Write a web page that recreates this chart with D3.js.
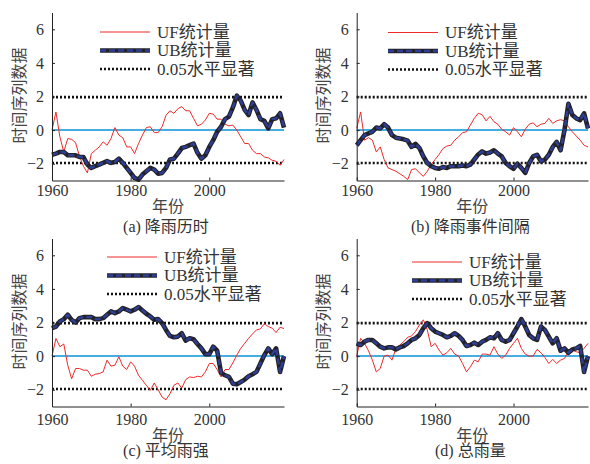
<!DOCTYPE html>
<html>
<head>
<meta charset="utf-8">
<script src="https://cdn.jsdelivr.net/npm/d3@7"></script>
<style>
body { margin: 0; background: #fff; }
text { font-family: "Liberation Serif", "Times New Roman", "Noto Sans CJK SC", serif; fill: #333; }
</style>
</head>
<body>
<script>

const startYear = 1960;
const xTicks = [1960, 1980, 2000];
const yTicks = [-2, 0, 2, 4, 6];
const sigLevel = 1.96;
const legendLabels = ["UF统计量", "UB统计量", "0.05水平显著"];
const titles = ["(a) 降雨历时", "(b) 降雨事件间隔", "(c) 平均雨强", "(d) 总雨量"];
const xLabel = "年份";
const yLabel = "时间序列数据";

// UF / UB values, one per year from 1960 to 2019
const ufA = [0.0, 1.08, -0.4, -1.3, -0.5, -0.55, -0.75, -1.57, -2.15, -2.55,
  -1.4, -1.2, -1.0, -0.7, -0.9, -0.5, 0.15, -0.3, -0.45, -1.0,
  -1.0, -1.4, -0.8, -0.3, 0.15, 0.2, -0.15, -0.15, 0.2, 0.88,
  1.15, 1.0, 1.27, 1.4, 1.15, 1.15, 0.7, 0.25, 0.35, 0.6,
  1.0, 0.95, 0.65, 0.65, 0.35, 0.25, 0.3, 0.0, -0.4, -0.8,
  -0.8, -1.2, -1.4, -1.4, -1.6, -1.65, -1.8, -1.85, -2.1, -1.75];
const ubA = [-1.47, -1.4, -1.3, -1.3, -1.5, -1.5, -1.5, -1.6, -1.6, -2.05,
  -2.25, -2.15, -2.05, -1.95, -1.85, -1.95, -1.9, -1.7, -1.95, -2.25,
  -2.55, -2.85, -2.95, -2.65, -2.45, -2.25, -2.35, -2.6, -2.55, -2.25,
  -1.75, -1.7, -1.4, -1.07, -1.0, -0.9, -0.8, -1.35, -1.7, -1.5,
  -1.0, -0.6, -0.1, 0.2, 0.65, 0.8, 1.35, 2.05, 1.75, 1.2,
  0.9, 1.65, 1.2, 0.65, 0.55, 0.1, 0.65, 0.7, 1.0, 0.15];

const ufB = [0.1, 1.08, -0.6, -0.45, -0.6, -1.3, -1.0, -1.75, -2.25, -2.35,
  -2.45, -2.6, -2.75, -2.95, -2.35, -2.3, -2.55, -2.75, -2.45, -2.05,
  -1.75, -1.45, -1.1, -0.95, -0.9, -0.6, -0.4, -0.15, -0.1, 0.3,
  0.7, 1.0, 0.92, 0.55, 0.82, 0.5, 0.35, 0.05, -0.1, -0.3,
  0.15, -0.1, -0.4, 0.05, 0.35, 0.43, 0.2, 0.35, 0.4, 0.7,
  0.4, 0.55, 0.62, 0.55, 0.2, -0.1, -0.35, -0.6, -0.9, -1.0];
const ubB = [-0.9, -0.6, -0.3, -0.2, -0.1, 0.15, 0.1, 0.35, 0.15, -0.3,
  -0.45, -0.5, -0.55, -0.63, -1.0, -0.82, -1.07, -1.57, -1.96, -2.15,
  -2.25, -2.3, -2.2, -2.25, -2.15, -2.15, -2.15, -2.1, -2.15, -2.05,
  -1.75, -1.45, -1.27, -1.4, -1.33, -1.2, -1.4, -1.57, -1.96, -2.15,
  -2.3, -2.0, -2.25, -2.55, -1.96, -1.57, -1.47, -1.86, -1.76, -1.47,
  -1.0, -0.7, -1.2, 0.0, 1.57, 0.9, 0.7, 0.6, 1.0, 0.1];

const ufC = [0.0, 1.05, 0.56, 0.72, -0.54, -1.35, -0.74, -0.74, -0.84, -0.84,
  -1.2, -1.08, -1.04, -0.94, -0.24, -0.6, -0.54, -0.04, -0.6, -0.8,
  -0.34, -0.6, -1.14, -1.44, -1.74, -2.04, -1.6, -2.0, -2.44, -2.6,
  -2.24, -1.74, -1.6, -1.9, -1.4, -1.24, -1.28, -1.2, -1.24, -0.94,
  -0.44, -0.44, -0.8, -1.24, -0.8, -0.8, -0.4, 0.06, 0.46, 0.76,
  1.06, 1.32, 1.56, 1.62, 1.92, 1.76, 1.66, 1.4, 1.72, 1.64];
const ubC = [1.66, 1.76, 2.06, 2.2, 2.46, 2.16, 2.0, 2.26, 2.32, 2.32,
  2.32, 2.2, 2.2, 2.26, 2.46, 2.66, 2.56, 2.66, 2.86, 2.76,
  2.66, 2.76, 2.92, 2.72, 2.52, 2.36, 2.16, 2.2, 1.96, 1.56,
  1.2, 1.12, 1.16, 1.36, 0.92, 1.06, 1.0, 0.72, 0.46, 0.12,
  0.12, 0.56, 0.32, -1.0, -1.14, -1.24, -1.64, -1.68, -1.54, -1.4,
  -1.2, -1.08, -0.94, -0.44, 0.06, 0.46, 0.12, 0.46, -0.94, 0.0];

const ufD = [0.0, 1.06, 0.76, 0.32, -0.24, -0.94, -0.74, 0.0, 0.06, -0.24,
  0.46, 0.66, 0.86, 1.12, 1.2, 1.46, 1.86, 2.16, 1.56, 0.56,
  0.76, 0.36, 0.06, 0.2, 0.46, 0.12, 0.0, -0.44, -0.94, -0.64,
  -0.24, -0.34, 0.12, 0.12, 0.06, 0.56, 0.12, -0.14, 0.06, 0.46,
  0.76, 1.06, 0.46, 0.12, 0.0, 0.0, 0.4, 0.2, -0.08, -0.44,
  -0.2, -0.44, -0.24, -0.14, 0.26, 0.36, 0.26, 0.2, 0.46, 0.76];
const ubD = [0.76, 0.66, 0.86, 0.96, 0.96, 0.76, 0.56, 0.46, 0.52, 0.52,
  0.4, 0.52, 0.6, 0.76, 0.96, 1.06, 1.26, 1.66, 1.96, 1.66,
  1.46, 1.36, 1.26, 1.12, 1.2, 1.36, 1.2, 0.96, 0.6, 0.66,
  0.8, 0.66, 0.86, 0.96, 1.12, 1.06, 1.36, 0.96, 0.86, 0.96,
  1.36, 1.76, 2.2, 1.76, 1.26, 1.06, 0.96, 1.76, 1.56, 1.16,
  0.76, 1.06, 0.32, 0.46, 0.2, 0.4, 0.46, 0.6, -0.94, 0.0];

// panel placement (pixels)
const panels = [
  {uf: ufA, ub: ubA, title: titles[0], x0: 52, x1: 284, y0: 12.5, y1: 180.5, lx: 100, ly: 32, tickC: 190, labC: 206.5, titC: 226.5},
  {uf: ufB, ub: ubB, title: titles[1], x0: 356.7, x1: 588, y0: 12.5, y1: 180.5, lx: 388, ly: 32.5, tickC: 190, labC: 206.5, titC: 226.5},
  {uf: ufC, ub: ubC, title: titles[2], x0: 52, x1: 284, y0: 238.5, y1: 406.5, lx: 107, ly: 257, tickC: 419.3, labC: 435, titC: 450.5},
  {uf: ufD, ub: ubD, title: titles[3], x0: 356.7, x1: 588, y0: 238.5, y1: 406.5, lx: 412, ly: 262, tickC: 419.3, labC: 435, titC: 450.5}
];

const svg = d3.select("body").append("svg")
  .attr("width", 590)
  .attr("height", 464);

function drawUB(g, d) {
  g.append("path").attr("d", d)
    .attr("fill", "none").attr("stroke", "#222228").attr("stroke-width", 4.6)
    .attr("stroke-linejoin", "round");
  g.append("path").attr("d", d)
    .attr("fill", "none").attr("stroke", "#2e3e96").attr("stroke-width", 2.4)
    .attr("stroke-dasharray", "6,3").attr("stroke-linejoin", "round");
}

panels.forEach(function(p) {
  const x = d3.scaleLinear().domain([1960, 2019]).range([p.x0, p.x1]);
  const y = d3.scaleLinear().domain([-3, 7]).range([p.y1, p.y0]);
  const g = svg.append("g");

  const line = d3.line()
    .x((v, i) => x(startYear + i))
    .y(v => y(v));

  // zero line
  g.append("line")
    .attr("x1", x(1960)).attr("x2", x(2019))
    .attr("y1", y(0)).attr("y2", y(0))
    .attr("stroke", "#45ade0").attr("stroke-width", 2);

  // significance lines
  [sigLevel, -sigLevel].forEach(function(s) {
    g.append("line")
      .attr("x1", x(1960)).attr("x2", x(2019))
      .attr("y1", y(s)).attr("y2", y(s))
      .attr("stroke", "#111").attr("stroke-width", 2.6)
      .attr("stroke-dasharray", "2,2");
  });

  g.append("path").attr("d", line(p.uf))
    .attr("fill", "none").attr("stroke", "#ee2b2b").attr("stroke-width", 1);

  drawUB(g, line(p.ub));

  // axes
  const yAxis = g.append("g")
    .attr("transform", `translate(${p.x0},0)`)
    .call(d3.axisLeft(y).tickValues(yTicks).tickSizeInner(-3).tickSizeOuter(0).tickPadding(8));
  const xAxis = g.append("g")
    .attr("transform", `translate(0,${p.y1})`)
    .call(d3.axisBottom(x).tickValues(xTicks).tickFormat(d3.format("d"))
      .tickSizeInner(-3).tickSizeOuter(0));
  xAxis.selectAll(".tick text").attr("y", p.tickC - p.y1).attr("dy", "0.35em");
  [xAxis, yAxis].forEach(function(a) {
    a.selectAll("text").attr("font-size", 16).attr("font-family", null).style("fill", "#333");
    a.select(".domain").attr("stroke", "#222");
    a.selectAll(".tick line").attr("stroke", "#222");
  });

  // labels
  g.append("text")
    .attr("transform", `translate(${p.x0 - 33},${(p.y0 + p.y1) / 2 - 1}) rotate(-90)`)
    .attr("text-anchor", "middle").attr("dy", "0.35em")
    .attr("font-size", 16).style("fill", "#444")
    .text(yLabel);
  g.append("text")
    .attr("x", (p.x0 + p.x1) / 2).attr("y", p.labC)
    .attr("text-anchor", "middle").attr("dy", "0.35em")
    .attr("font-size", 16).style("fill", "#444")
    .text(xLabel);
  g.append("text")
    .attr("x", (p.x0 + p.x1) / 2 - 2).attr("y", p.titC)
    .attr("text-anchor", "middle").attr("dy", "0.35em")
    .attr("font-size", 16).style("fill", "#333")
    .text(p.title);

  // legend
  const lg = g.append("g").attr("transform", `translate(${p.lx},${p.ly})`);
  const rowH = 18.5;
  lg.append("line").attr("x1", 0).attr("x2", 50).attr("y1", 0).attr("y2", 0)
    .attr("stroke", "#ee2b2b").attr("stroke-width", 1);
  drawUB(lg, `M0,${rowH}H50`);
  lg.append("line").attr("x1", 0).attr("x2", 50).attr("y1", 2 * rowH).attr("y2", 2 * rowH)
    .attr("stroke", "#111").attr("stroke-width", 2.6).attr("stroke-dasharray", "2,2");
  legendLabels.forEach(function(t, i) {
    lg.append("text")
      .attr("x", 57).attr("y", i * rowH).attr("dy", "0.35em")
      .attr("font-size", 17).style("fill", "#333")
      .text(t);
  });
});

</script>
</body>
</html>
